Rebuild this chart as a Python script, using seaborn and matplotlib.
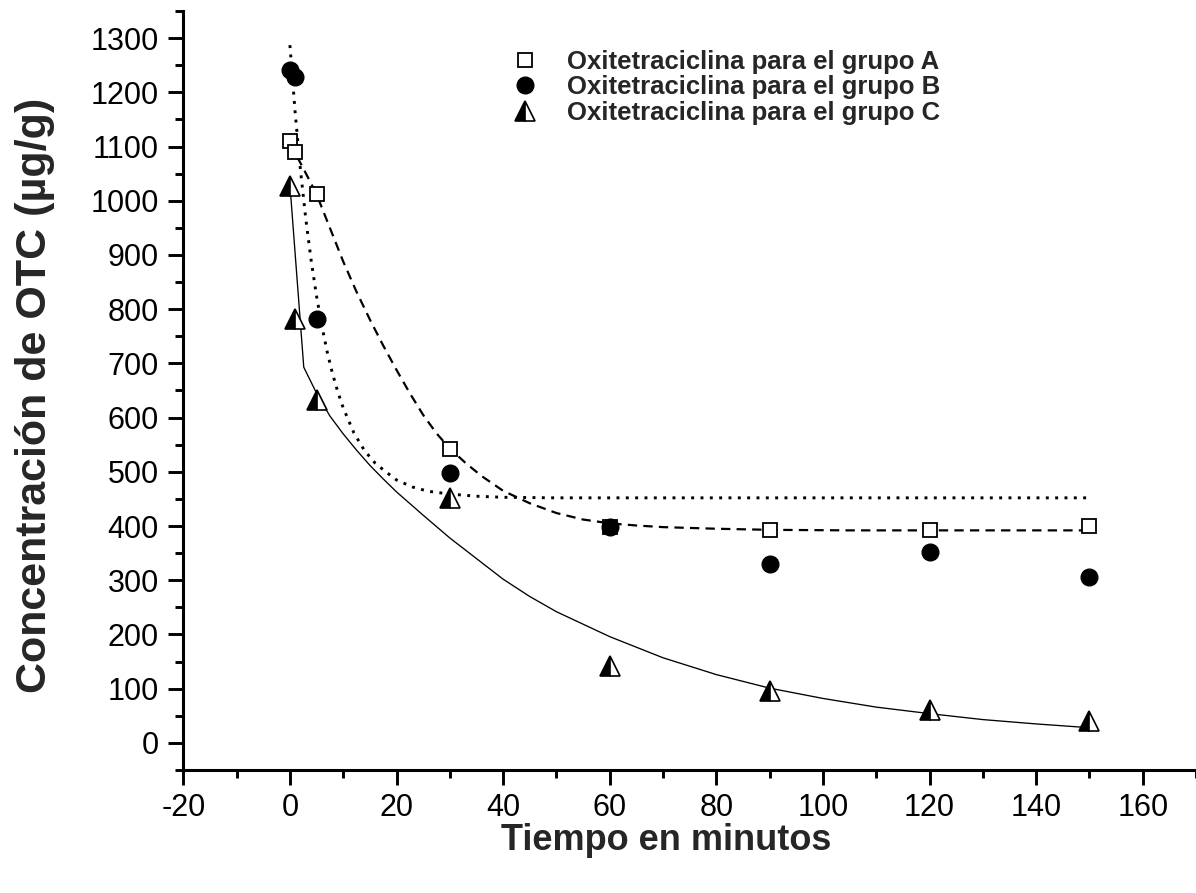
import matplotlib
matplotlib.use("Agg")
import matplotlib.pyplot as plt
from matplotlib.lines import Line2D
import seaborn as sns

# ---- data ----
time_min = [0, 1, 5, 30, 60, 90, 120, 150]
grupo_a = [1110, 1089, 1013, 542, 398, 392, 392, 400]
grupo_b = [1242, 1229, 782, 497, 399, 330, 352, 306]
grupo_c = [1027, 782, 632, 452, 142, 96, 60, 41]

# fitted curves as drawn in the reference
fit_a_x = [0, 2.5, 5, 7.5, 10, 12.5, 15, 17.5, 20, 22.5, 25, 27.5, 30, 33, 36, 40,
           45, 50, 55, 60, 65, 70, 80, 90, 105, 120, 135, 150]
fit_a_y = [1106, 1060, 1012, 950, 888, 832, 781, 733, 688, 645, 605, 571, 543, 516,
           492, 465, 442, 424, 412, 405, 401, 398, 395, 393, 392, 392, 392, 392]

fit_b_x = [0, 1, 2, 3, 4, 5, 6, 7, 8, 9, 10, 12, 14, 16, 18, 20, 23, 26, 30, 35,
           40, 50, 150]
fit_b_y = [1287, 1161, 1055, 965, 889, 824, 769, 721, 681, 647, 618, 572, 539, 516,
           500, 485, 472, 464, 459, 455, 453, 452, 452]

fit_c_x = [0, 2.6, 5, 7.5, 10, 12.5, 15, 17.5, 20, 25, 30, 35, 40, 45, 50, 60, 70,
           80, 90, 100, 110, 120, 130, 140, 150]
fit_c_y = [1030, 693, 645, 603, 570, 540, 512, 487, 463, 420, 378, 340, 302, 270,
           242, 196, 157, 126, 101, 82, 66, 54, 43, 35, 28]

labels = ["Oxitetraciclina para el grupo A",
          "Oxitetraciclina para el grupo B",
          "Oxitetraciclina para el grupo C"]
x_label = "Tiempo en minutos"
y_label = "Concentración de OTC (µg/g)"
x_ticks = [-20, 0, 20, 40, 60, 80, 100, 120, 140, 160]
y_ticks = list(range(0, 1301, 100))

# ---- style ----
sns.set_style("ticks")
plt.rcParams["font.family"] = ["Liberation Sans", "DejaVu Sans"]
plt.rcParams["axes.unicode_minus"] = False

W, H = 1196, 893
fig = plt.figure(figsize=(W / 100, H / 100), dpi=100)
left, right, bottom, top = 183.3, 1196, 770, 11
ax = fig.add_axes([left / W, (H - bottom) / H, (right - left) / W, (bottom - top) / H])

# fitted lines
sns.lineplot(x=fit_a_x, y=fit_a_y, ax=ax, color="black", lw=1.6,
             linestyle=(0, (4.2, 2.8)), sort=False, estimator=None)
sns.lineplot(x=fit_b_x, y=fit_b_y, ax=ax, color="black", lw=2.1,
             linestyle=(0, (1, 2.2)), sort=False, estimator=None)
sns.lineplot(x=fit_c_x, y=fit_c_y, ax=ax, color="black", lw=0.95,
             linestyle="-", sort=False, estimator=None)

# data points
sns.lineplot(x=time_min, y=grupo_a, ax=ax, color="black", linestyle="none",
             marker="s", markersize=10, markerfacecolor="white",
             markeredgecolor="black", markeredgewidth=1.3, sort=False, estimator=None)
sns.lineplot(x=time_min, y=grupo_b, ax=ax, color="black", linestyle="none",
             marker="o", markersize=12, markerfacecolor="black",
             markeredgecolor="black", markeredgewidth=1.0, sort=False, estimator=None)
sns.lineplot(x=time_min, y=grupo_c, ax=ax, color="black", linestyle="none",
             marker="^", markersize=14, fillstyle="left", markerfacecolor="black",
             markerfacecoloralt="white", markeredgecolor="black",
             markeredgewidth=1.2, sort=False, estimator=None)

ax.set_xlim(-20, -20 + (right - left) / 5.375)
ax.set_ylim(-50, 1350)
ax.set_xticks(x_ticks)
ax.set_yticks(y_ticks)
ax.set_xticks([v + 10 for v in x_ticks], minor=True)
ax.set_yticks([-50] + [v + 50 for v in y_ticks], minor=True)
ax.tick_params(axis="both", which="major", direction="out", length=10.5, width=2.1,
               labelsize=22, color="black", labelcolor="black")
ax.tick_params(axis="x", which="major", pad=6)
ax.tick_params(axis="y", which="major", pad=7)
ax.tick_params(axis="both", which="minor", direction="out", length=5.5, width=2.1,
               color="black")
sns.despine(ax=ax)
for s in ("left", "bottom"):
    ax.spines[s].set_linewidth(2.2)
    ax.spines[s].set_color("black")

ax.set_xlabel(x_label, fontsize=26, fontweight="bold", va="center")
ax.set_ylabel(y_label, fontsize=31, fontweight="bold", va="center")
ax.xaxis.set_label_coords((666 - left) / (right - left), (bottom - 840) / (bottom - top))
ax.yaxis.set_label_coords((35 - left) / (right - left), (bottom - 395) / (bottom - top))

handles = [
    Line2D([], [], linestyle="none", marker="s", markersize=10, markerfacecolor="white",
           markeredgecolor="black", markeredgewidth=1.3),
    Line2D([], [], linestyle="none", marker="o", markersize=12, markerfacecolor="black",
           markeredgecolor="black"),
    Line2D([], [], linestyle="none", marker="^", markersize=14, fillstyle="left",
           markerfacecolor="black", markerfacecoloralt="white", markeredgecolor="black",
           markeredgewidth=1.2),
]
ax.legend(handles, labels, loc="upper left", bbox_to_anchor=(512 / W, 1 - 50 / H),
          bbox_transform=fig.transFigure, frameon=False, borderpad=0, borderaxespad=0,
          handlelength=1.0, handletextpad=1.13, labelspacing=0.05,
          prop={"weight": "bold", "size": 18.5})

fig.savefig("out.png", dpi=100)
